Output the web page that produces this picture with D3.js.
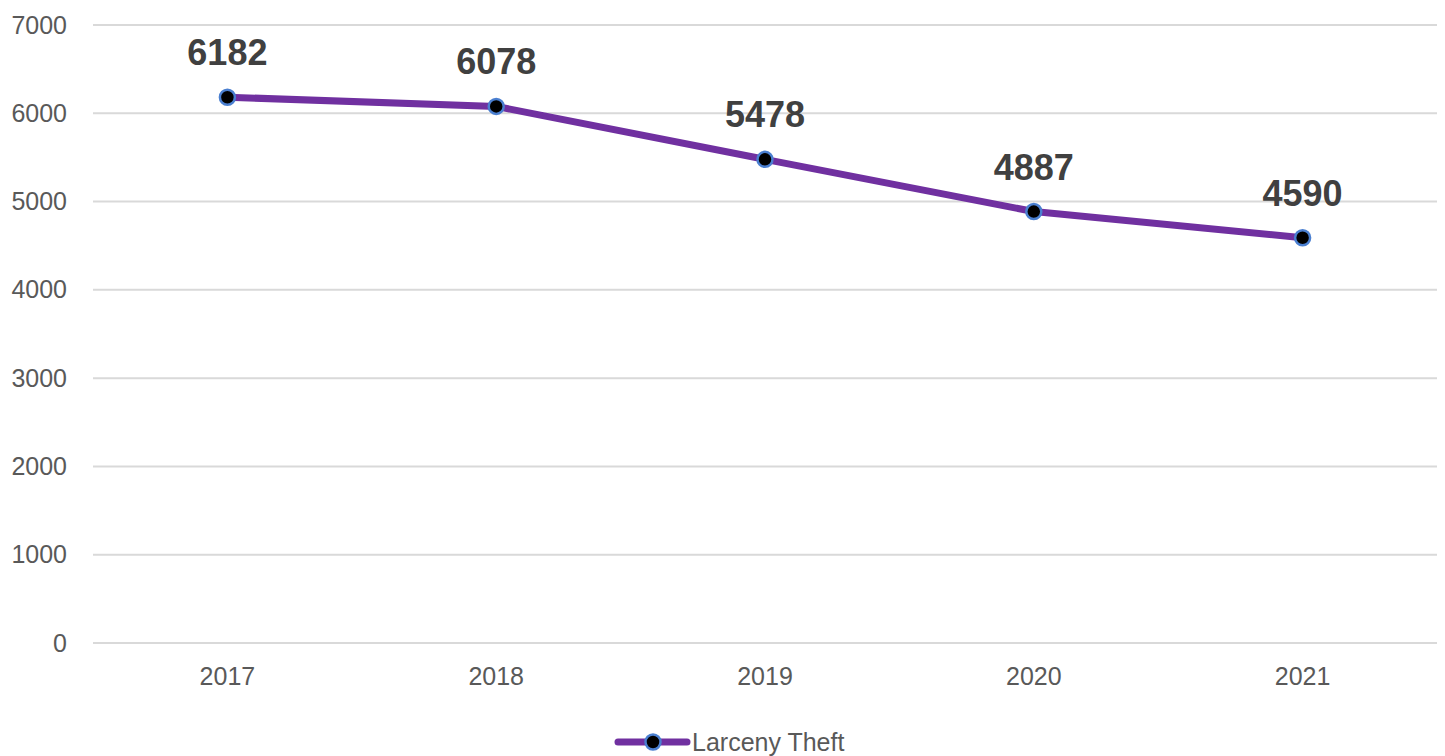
<!DOCTYPE html>
<html>
<head>
<meta charset="utf-8">
<script src="https://cdn.jsdelivr.net/npm/d3@7"></script>
<style>
  html, body { margin: 0; padding: 0; background: #fff; }
  svg { display: block; }
</style>
</head>
<body>
<div id="chart"></div>
<script>
// chart data
const years = ["2017", "2018", "2019", "2020", "2021"];
const larceny = [6182, 6078, 5478, 4887, 4590];
const yTicks = [0, 1000, 2000, 3000, 4000, 5000, 6000, 7000];
const seriesName = "Larceny Theft";

const W = 1445, H = 756;
const plot = { left: 93, right: 1437, top: 25, bottom: 643 };
const font = "'Liberation Sans', Arial, sans-serif";

const svg = d3.select("#chart").append("svg")
  .attr("width", W).attr("height", H);

const x = d3.scaleBand().domain(years).range([plot.left, plot.right]);
const y = d3.scaleLinear().domain([0, 7000]).range([plot.bottom, plot.top]);
const cx = d => x(d) + x.bandwidth() / 2;

// gridlines
svg.append("g")
  .selectAll("line")
  .data(yTicks)
  .join("line")
  .attr("x1", plot.left).attr("x2", plot.right)
  .attr("y1", d => y(d)).attr("y2", d => y(d))
  .attr("stroke", "#d9d9d9")
  .attr("stroke-width", 2);

// y axis labels
const yAxis = svg.append("g")
  .attr("transform", `translate(${plot.left},0)`)
  .call(d3.axisLeft(y).tickValues(yTicks).tickFormat(d3.format("d")).tickSize(0).tickPadding(26));
yAxis.select(".domain").remove();
yAxis.selectAll("text")
  .attr("fill", "#595959")
  .style("font-family", font)
  .style("font-size", "25px");

// x axis labels
const xAxis = svg.append("g")
  .attr("transform", `translate(0,${plot.bottom})`)
  .call(d3.axisBottom(x).tickSize(0).tickPadding(24));
xAxis.select(".domain").remove();
xAxis.selectAll("text")
  .attr("fill", "#595959")
  .style("font-family", font)
  .style("font-size", "25px");

// line
const line = d3.line()
  .x((d, i) => cx(years[i]))
  .y(d => y(d));

svg.append("path")
  .datum(larceny)
  .attr("d", line)
  .attr("fill", "none")
  .attr("stroke", "#7030a0")
  .attr("stroke-width", 7)
  .attr("stroke-linejoin", "round");

// markers
svg.append("g")
  .selectAll("circle")
  .data(larceny)
  .join("circle")
  .attr("cx", (d, i) => cx(years[i]))
  .attr("cy", d => y(d))
  .attr("r", 7.5)
  .attr("fill", "#000")
  .attr("stroke", "#4a7fd0")
  .attr("stroke-width", 2.5);

// data labels
svg.append("g")
  .selectAll("text")
  .data(larceny)
  .join("text")
  .attr("x", (d, i) => cx(years[i]))
  .attr("y", d => y(d) - 32)
  .attr("text-anchor", "middle")
  .attr("fill", "#404040")
  .style("font-family", font)
  .style("font-weight", "bold")
  .style("font-size", "36px")
  .text(d => d);

// legend
const lg = svg.append("g").attr("transform", "translate(618,742)");
lg.append("line")
  .attr("x1", 0).attr("x2", 69)
  .attr("stroke", "#7030a0")
  .attr("stroke-width", 7)
  .attr("stroke-linecap", "round");
lg.append("circle")
  .attr("cx", 35).attr("r", 7.5)
  .attr("fill", "#000")
  .attr("stroke", "#4a7fd0")
  .attr("stroke-width", 2.5);
lg.append("text")
  .attr("x", 74)
  .attr("dy", "0.35em")
  .attr("fill", "#595959")
  .style("font-family", font)
  .style("font-size", "25px")
  .text(seriesName);
</script>
</body>
</html>
